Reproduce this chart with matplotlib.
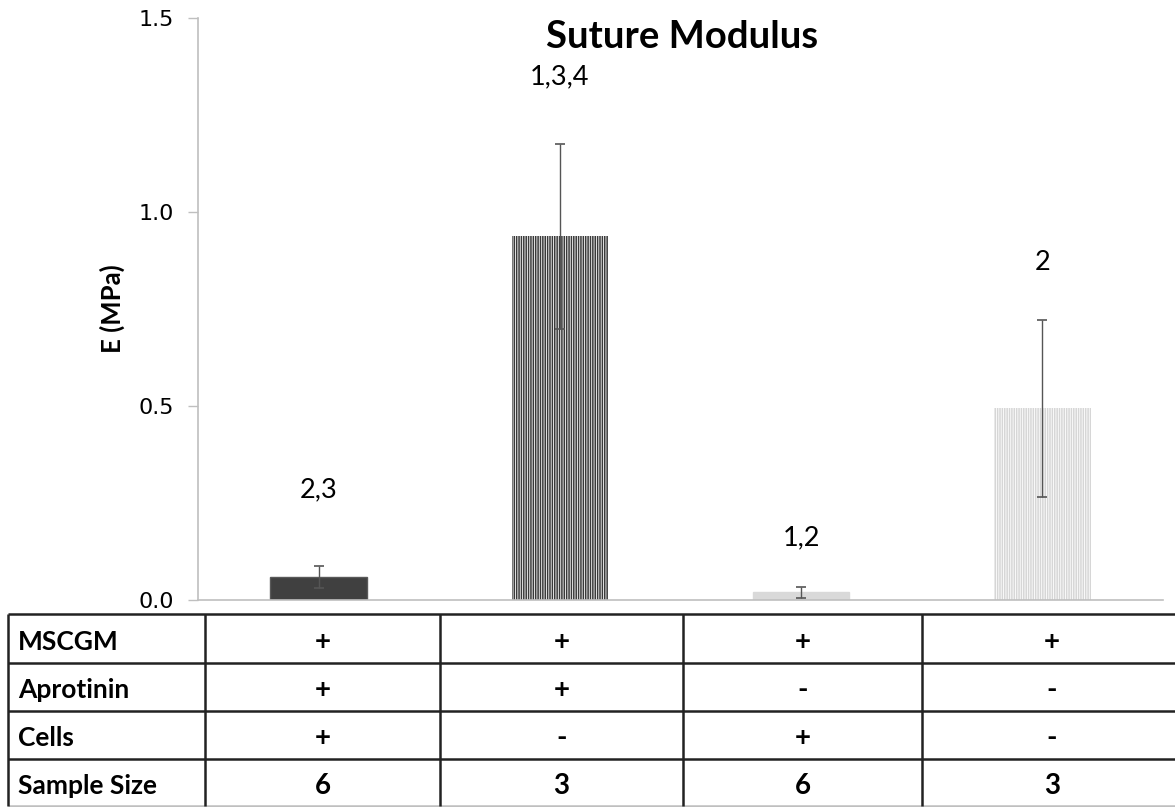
import matplotlib
matplotlib.use("Agg")
import matplotlib.pyplot as plt

# Data
groups = ["G1", "G2", "G3", "G4"]
modulus = [0.060, 0.937, 0.020, 0.494]
modulus_err = [0.028, 0.238, 0.014, 0.228]
sig_labels = ["2,3", "1,3,4", "1,2", "2"]
sig_label_y = [0.283, 1.348, 0.160, 0.871]

row_names = ["MSCGM", "Aprotinin", "Cells", "Sample Size"]
mscgm = ["+", "+", "+", "+"]
aprotinin = ["+", "+", "-", "-"]
cells = ["+", "-", "+", "-"]
sample_size = ["6", "3", "6", "3"]

W, H = 1175, 807
plt.rcParams["hatch.linewidth"] = 0.6
fig = plt.figure(figsize=(W / 100, H / 100), dpi=100)

CAL = ["Lato", "DejaVu Sans"]

# Main bar axes
ax_l, ax_r, ax_t, ax_b = 198, 1163, 18, 600
ax = fig.add_axes([ax_l / W, 1 - ax_b / H, (ax_r - ax_l) / W, (ax_b - ax_t) / H])

x = list(range(len(groups)))
faces = ["#404040", "#3a3a3a", "#d9d9d9", "#d6d6d6"]
edges = ["#595959", "#ffffff", "#d9d9d9", "#ffffff"]
hatches = [None, "|||||||", None, "|||||||"]
for xi, v, fc, ec, h in zip(x, modulus, faces, edges, hatches):
    ax.bar(xi, v, width=0.4, color=fc, edgecolor=ec, hatch=h,
           linewidth=0 if h else 1.0)

ax.errorbar(x, modulus, yerr=modulus_err, fmt="none", ecolor="#555555",
            elinewidth=1.0, capsize=3.3, capthick=1.2)

for xi, lab, ly in zip(x, sig_labels, sig_label_y):
    ax.text(xi, ly, lab, ha="center", va="center", fontsize=19.5, family=CAL,
            color="black")

ax.set_xlim(-0.5, 3.5)
ax.set_ylim(0, 1.5)
ax.set_yticks([0.0, 0.5, 1.0, 1.5])
ax.set_yticklabels(["0.0", "0.5", "1.0", "1.5"])
ax.tick_params(axis="y", length=7, width=1, color="#bfbfbf", labelsize=16,
               pad=10, labelcolor="black")
ax.tick_params(axis="x", length=0, labelbottom=False)
for s in ["top", "right"]:
    ax.spines[s].set_visible(False)
for s in ["left", "bottom"]:
    ax.spines[s].set_color("#bfbfbf")
    ax.spines[s].set_linewidth(1.2)

ax.set_ylabel("E (MPa)", fontsize=18.5, fontweight="bold", family=CAL)
ax.yaxis.set_label_coords((125 - ax_l) / (ax_r - ax_l), 0.5)
fig.text(682 / W, 1 - 37 / H, "Suture Modulus", ha="center", va="center",
         fontsize=27.5, fontweight="bold", family=CAL)

# Condition table beneath the bars
tab = fig.add_axes([0, 0, 1, 1], facecolor="none")
tab.set_xlim(0, W)
tab.set_ylim(H, 0)
tab.axis("off")

row_edges = [614, 663, 711, 759, 806]
col_edges = [8, 205, 440, 683, 922, 1182]
for i, y in enumerate(row_edges):
    c = "#bfbfbf" if i == len(row_edges) - 1 else "#222222"
    tab.plot([col_edges[0], W], [y, y], color=c, lw=1.8, solid_capstyle="butt")
for xv in col_edges[:-1]:
    tab.plot([xv, xv], [row_edges[0], row_edges[-1]], color="#222222", lw=1.8,
             solid_capstyle="butt")

rows = [mscgm, aprotinin, cells, sample_size]
for r, (name, vals) in enumerate(zip(row_names, rows)):
    yc = (row_edges[r] + row_edges[r + 1]) / 2 + 3
    tab.text(col_edges[0] + 10, yc, name, ha="left", va="center", fontsize=19,
             fontweight="bold", family=CAL)
    for c, v in enumerate(vals):
        xc = (col_edges[c + 1] + col_edges[c + 2]) / 2
        tab.text(xc, yc, v, ha="center", va="center", fontsize=20,
                 fontweight="bold", family=CAL)

fig.savefig("out.png", dpi=100)
